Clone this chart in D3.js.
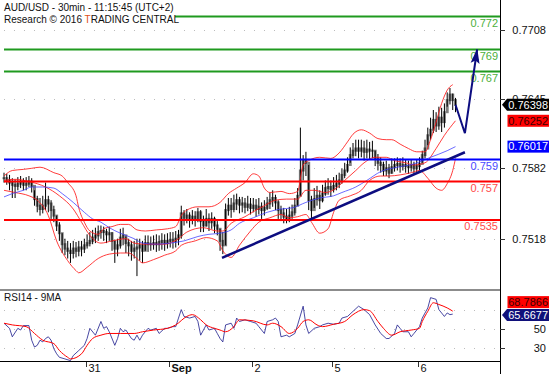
<!DOCTYPE html>
<html>
<head>
<meta charset="utf-8">
<script src="https://cdn.jsdelivr.net/npm/d3@7/dist/d3.min.js"></script>
<style>
  body { margin: 0; background: #fff; }
  svg { display: block; font-family: Arial, "Liberation Sans", sans-serif; }
</style>
</head>
<body>
<svg id="chart" width="554" height="374"></svg>
<script>
/*
AUD/USD 30min candles with bands, MA, levels and RSI panel
*/

// Price bars (30min), open = previous close
var closes = [
  0.7573,0.7571,0.7569,0.7567,0.7566,0.7568,0.7570,0.7567,0.7568,0.7570,
  0.7566,0.7554,0.7548,0.7545,0.7548,0.7553,0.7550,0.7544,0.7539,0.7530,
  0.7523,0.7513,0.7509,0.7507,0.7505,0.7509,0.7507,0.7510,0.7509,0.7512,
  0.7514,0.7516,0.7519,0.7521,0.7524,0.7525,0.7524,0.7522,0.7523,0.7516,
  0.7509,0.7512,0.7519,0.7521,0.7514,0.7512,0.7507,0.7509,0.7510,0.7512,
  0.7507,0.7514,0.7513,0.7513,0.7514,0.7513,0.7515,0.7516,0.7514,0.7516,
  0.7517,0.7516,0.7518,0.7521,0.7541,0.7537,0.7539,0.7535,0.7538,0.7536,
  0.7542,0.7534,0.7530,0.7536,0.7533,0.7536,0.7530,0.7527,0.7516,0.7512,
  0.7544,0.7548,0.7545,0.7550,0.7553,0.7549,0.7550,0.7547,0.7549,0.7546,
  0.7548,0.7545,0.7547,0.7544,0.7546,0.7550,0.7553,0.7555,0.7551,0.7544,
  0.7541,0.7538,0.7536,0.7539,0.7542,0.7548,0.7557,0.7580,0.7589,0.7587,
  0.7553,0.7544,0.7554,0.7557,0.7553,0.7559,0.7564,0.7565,0.7563,0.7566,
  0.7568,0.7571,0.7576,0.7580,0.7585,0.7594,0.7598,0.7600,0.7598,0.7600,
  0.7597,0.7599,0.7598,0.7598,0.7591,0.7587,0.7585,0.7580,0.7582,0.7578,
  0.7583,0.7585,0.7586,0.7584,0.7585,0.7584,0.7583,0.7585,0.7582,0.7584,
  0.7586,0.7594,0.7600,0.7612,0.7617,0.7626,0.7621,0.7628,0.7624,0.7633,
  0.7644,0.7649,0.7644,0.76398
];
var highs = [
  0.7578,0.7577,0.7576,0.7573,0.7572,0.7574,0.7575,0.7573,0.7574,0.7575,
  0.7573,0.7562,0.7557,0.7555,0.7557,0.7569,0.7557,0.7553,0.7548,0.7539,
  0.7533,0.7523,0.7518,0.7516,0.7514,0.7516,0.7515,0.7516,0.7516,0.7518,
  0.7522,0.7524,0.7526,0.7528,0.7530,0.7530,0.7529,0.7527,0.7529,0.7524,
  0.7516,0.7518,0.7527,0.7528,0.7520,0.7518,0.7516,0.7516,0.7518,0.7518,
  0.7516,0.7521,0.7521,0.7520,0.7521,0.7522,0.7521,0.7523,0.7522,0.7523,
  0.7524,0.7524,0.7525,0.7526,0.7548,0.7544,0.7545,0.7542,0.7544,0.7543,
  0.7546,0.7544,0.7539,0.7545,0.7541,0.7542,0.7538,0.7534,0.7527,0.7524,
  0.7550,0.7555,0.7555,0.7558,0.7559,0.7556,0.7556,0.7555,0.7557,0.7555,
  0.7555,0.7554,0.7555,0.7551,0.7553,0.7556,0.7560,0.7562,0.7558,0.7553,
  0.7548,0.7546,0.7545,0.7547,0.7549,0.7555,0.7564,0.7619,0.7594,0.7597,
  0.7585,0.7557,0.7564,0.7566,0.7562,0.7567,0.7571,0.7573,0.7571,0.7574,
  0.7576,0.7578,0.7582,0.7587,0.7592,0.7601,0.7605,0.7608,0.7608,0.7608,
  0.7607,0.7608,0.7606,0.7607,0.7598,0.7595,0.7592,0.7588,0.7589,0.7586,
  0.7591,0.7591,0.7592,0.7591,0.7592,0.7590,0.7589,0.7590,0.7588,0.7590,
  0.7592,0.7598,0.7608,0.7619,0.7628,0.7635,0.7633,0.7638,0.7637,0.7641,
  0.7651,0.7655,0.7650,0.7646
];
var lows = [
  0.7569,0.7567,0.7562,0.7555,0.7555,0.7562,0.7564,0.7562,0.7562,0.7565,
  0.7560,0.7548,0.7542,0.7539,0.7541,0.7544,0.7542,0.7536,0.7533,0.7525,
  0.7516,0.7505,0.7503,0.7500,0.7496,0.7500,0.7501,0.7502,0.7502,0.7505,
  0.7509,0.7511,0.7513,0.7514,0.7516,0.7518,0.7516,0.7514,0.7516,0.7507,
  0.7496,0.7502,0.7509,0.7512,0.7505,0.7502,0.7498,0.7500,0.7484,0.7498,
  0.7496,0.7507,0.7506,0.7507,0.7508,0.7506,0.7507,0.7508,0.7507,0.7509,
  0.7510,0.7509,0.7510,0.7512,0.7518,0.7530,0.7532,0.7528,0.7531,0.7529,
  0.7533,0.7524,0.7524,0.7529,0.7525,0.7527,0.7523,0.7521,0.7507,0.7504,
  0.7512,0.7539,0.7537,0.7542,0.7544,0.7541,0.7542,0.7541,0.7543,0.7540,
  0.7542,0.7538,0.7540,0.7536,0.7539,0.7544,0.7545,0.7547,0.7544,0.7536,
  0.7534,0.7532,0.7532,0.7533,0.7536,0.7539,0.7548,0.7557,0.7571,0.7575,
  0.7544,0.7536,0.7546,0.7548,0.7545,0.7551,0.7557,0.7558,0.7556,0.7560,
  0.7562,0.7564,0.7568,0.7573,0.7578,0.7587,0.7591,0.7593,0.7591,0.7592,
  0.7589,0.7591,0.7590,0.7591,0.7584,0.7580,0.7578,0.7575,0.7575,0.7573,
  0.7577,0.7579,0.7580,0.7578,0.7580,0.7578,0.7577,0.7579,0.7577,0.7578,
  0.7580,0.7587,0.7591,0.7603,0.7608,0.7614,0.7615,0.7617,0.7615,0.7619,
  0.7638,0.7640,0.7635,0.7633
];

// Bands and moving average, [bar index, price]
var bandUpper = [[0,0.7575],[3,0.7580],[7,0.7581],[10,0.7582],[13,0.7583],[18,0.7578],[21,0.7575],[23,0.7569],[26,0.7557],[27,0.7546],[29,0.7533],[31,0.7525],[34,0.7522],[36,0.7527],[39,0.7529],[42,0.7531],[45,0.7531],[48,0.7526],[51,0.7525],[55,0.7526],[59,0.7527],[62,0.7529],[64,0.7539],[66,0.7544],[70,0.7547],[74,0.7547],[78,0.7551],[81,0.7559],[84,0.7564],[87,0.7569],[90,0.7577],[92,0.7575],[94,0.7564],[96,0.7560],[100,0.7561],[103,0.7559],[106,0.7561],[108,0.7585],[110,0.7589],[114,0.7592],[118,0.7591],[121,0.7596],[124,0.7606],[126,0.7613],[129,0.7617],[132,0.7614],[135,0.7609],[138,0.7608],[140,0.7608],[143,0.7604],[146,0.7600],[149,0.7597],[152,0.7597],[154,0.7608],[156,0.7624],[158,0.7641],[160,0.7653],[162,0.7658]];
var bandMiddle = [[0,0.7571],[4,0.7572],[9,0.7570],[15,0.7565],[20,0.7557],[25,0.7545],[28,0.7533],[31,0.7521],[35,0.7514],[39,0.7516],[44,0.7518],[47,0.7514],[51,0.7513],[55,0.7513],[58,0.7513],[63,0.7518],[66,0.7524],[72,0.7528],[77,0.7525],[79,0.7525],[82,0.7532],[87,0.7538],[91,0.7544],[94,0.7548],[98,0.7553],[102,0.7554],[106,0.7554],[109,0.7562],[112,0.7562],[116,0.7560],[120,0.7564],[123,0.7571],[127,0.7580],[130,0.7587],[134,0.7592],[138,0.7592],[141,0.7589],[145,0.7587],[148,0.7585],[152,0.7587],[156,0.7600],[159,0.7612],[163,0.76252]];
var bandLower = [[0,0.7562],[4,0.7560],[9,0.7557],[12,0.7553],[16,0.7539],[19,0.7516],[23,0.7498],[26,0.7489],[27,0.7487],[30,0.7492],[34,0.7500],[38,0.7504],[42,0.7505],[45,0.7505],[48,0.7500],[50,0.7496],[54,0.7499],[58,0.7503],[62,0.7507],[64,0.7512],[69,0.7516],[73,0.7519],[77,0.7516],[79,0.7507],[82,0.7501],[85,0.7512],[89,0.7525],[92,0.7533],[96,0.7537],[100,0.7540],[103,0.7537],[106,0.7538],[109,0.7540],[111,0.7533],[114,0.7523],[117,0.7527],[119,0.7542],[121,0.7553],[125,0.7557],[129,0.7562],[132,0.7571],[136,0.7575],[139,0.7575],[143,0.7576],[147,0.7578],[150,0.7580],[153,0.7573],[156,0.7564],[158,0.7562],[160,0.7568],[162,0.7580],[163,0.7591]];
var movingAvg = [[0,0.7556],[3,0.7559],[7,0.7562],[10,0.7565],[14,0.7565],[18,0.7564],[21,0.7559],[25,0.7551],[29,0.7542],[32,0.7536],[35,0.7533],[38,0.7528],[42,0.7523],[47,0.7518],[50,0.7514],[55,0.7513],[60,0.7514],[65,0.7516],[70,0.7520],[74,0.7522],[78,0.7523],[82,0.7526],[85,0.7532],[90,0.7537],[95,0.7542],[100,0.7545],[104,0.7546],[109,0.7551],[114,0.7555],[119,0.7557],[122,0.7560],[127,0.7565],[131,0.7571],[136,0.7579],[142,0.7583],[148,0.7586],[154,0.7592],[160,0.7598],[163,0.76017]];

// RSI14 and its 9MA, [bar index, value]
var rsi = [[0,56.1],[2,50.7],[3,41.8],[5,50.7],[6,48.9],[7,53.6],[9,53.6],[10,38.2],[11,31.0],[12,32.8],[13,38.2],[14,36.4],[15,40.0],[16,41.8],[17,38.2],[18,29.2],[19,23.9],[20,20.2],[22,18.5],[24,16.7],[25,22.0],[27,27.4],[29,32.8],[30,40.0],[31,50.7],[33,43.5],[35,57.9],[36,50.7],[37,52.5],[38,47.1],[40,32.8],[41,40.0],[42,50.7],[43,47.1],[44,48.9],[46,40.0],[47,38.2],[48,43.5],[49,38.2],[50,43.5],[52,50.7],[53,48.9],[55,50.7],[56,45.3],[58,50.7],[59,50.7],[61,52.5],[62,52.5],[63,61.5],[64,70.4],[65,63.2],[67,61.5],[69,63.2],[70,57.9],[71,43.5],[73,54.3],[74,48.9],[76,50.7],[77,45.3],[78,40.0],[79,36.4],[80,54.3],[82,56.1],[83,50.7],[84,61.5],[85,57.9],[87,59.7],[89,57.9],[91,56.1],[92,52.5],[94,45.3],[95,57.9],[97,59.7],[98,61.5],[99,57.9],[100,41.8],[102,43.5],[103,41.8],[105,45.3],[106,54.3],[108,74.0],[109,54.3],[110,45.3],[112,50.7],[114,52.5],[115,54.3],[117,56.1],[119,55.0],[121,56.1],[122,61.5],[124,63.2],[126,68.6],[128,74.0],[130,70.4],[132,65.1],[134,54.3],[136,45.3],[138,40.0],[139,40.0],[141,45.3],[142,54.3],[143,50.7],[144,47.1],[146,47.1],[147,41.8],[148,45.3],[150,52.5],[151,61.5],[153,72.2],[154,83.0],[156,81.2],[157,70.4],[159,63.2],[160,66.9],[161,65.1],[162,65.6677]];
var rsiMa = [[0,56.1],[3,54.3],[8,52.5],[11,45.3],[14,38.2],[18,34.6],[20,27.4],[23,20.2],[24,18.5],[28,23.9],[30,32.8],[32,40.0],[35,43.5],[38,45.3],[42,45.3],[47,45.3],[50,47.1],[54,48.9],[59,50.7],[62,54.3],[66,63.2],[68,65.1],[71,59.7],[73,54.3],[76,50.7],[78,48.9],[80,47.1],[83,52.5],[85,59.7],[90,58.6],[95,54.3],[97,56.1],[100,52.5],[103,45.3],[106,50.7],[108,57.9],[110,59.7],[113,54.3],[115,52.5],[119,55.0],[123,57.9],[126,65.1],[130,70.4],[132,69.3],[135,57.9],[137,50.7],[140,43.5],[143,47.1],[147,48.9],[150,50.7],[151,57.9],[153,68.6],[155,77.6],[157,75.8],[160,72.2],[162,68.7866]];

// Levels
var resistLevels = [0.772, 0.769, 0.767];
var pivotLevels = [0.759];
var supportLevels = [0.757, 0.7535];

// Trend line and projected path, [bar index, price]
var trendLine = [[78.7, 0.75006], [166.4, 0.75966]];
var projection = [[163, 0.76398], [166.4, 0.76139], [170.8, 0.76900]];

// Axes
var priceTicks = [0.7518, 0.7582, 0.7645, 0.7708];
var rsiTicks = [30, 50, 70];
var rsiLabelTicks = [30, 50];
var dayStarts = [30, 60, 90, 119, 150];
var dayLabels = ["31", "Sep", "2", "5", "6"];

var title = "AUD/USD - 30min - 11:15:45 (UTC+2)";

// Layout
var W = 500;
var svg = d3.select("#chart");

var x = d3.scaleLinear().domain([0, 163]).range([4, 455.5]);
var y = d3.scaleLinear().domain([0.759, 0.7708]).range([159.5, 29.7]);
var yR = d3.scaleLinear().domain([30, 50]).range([348, 329]);

function openOf(i) {
  return i > 0 ? closes[i - 1] : closes[0];
}

var lineP = d3.line()
  .x(function(d) { return x(d[0]); })
  .y(function(d) { return y(d[1]); });

var lineR = d3.line()
  .x(function(d) { return x(d[0]); })
  .y(function(d) { return yR(d[1]); });

// Layers
var grid = svg.append("g").attr("class", "grid");
var chart = svg.append("g").attr("class", "chart");
var over = svg.append("g").attr("class", "overlay");
var axes = svg.append("g").attr("class", "axes");

// Dotted grid lines
grid.selectAll("line.pg")
  .data(priceTicks)
  .join("line")
    .attr("class", "pg")
    .attr("x1", 4).attr("x2", W)
    .attr("y1", function(d) { return Math.round(y(d)) + 0.5; })
    .attr("y2", function(d) { return Math.round(y(d)) + 0.5; })
    .style("stroke", "#bdbdbd")
    .style("stroke-dasharray", "1,9")
    ;
grid.selectAll("line.rg")
  .data(rsiTicks)
  .join("line")
    .attr("class", "rg")
    .attr("x1", 4).attr("x2", W)
    .attr("y1", function(d) { return Math.round(yR(d)) + 0.5; })
    .attr("y2", function(d) { return Math.round(yR(d)) + 0.5; })
    .style("stroke", "#bdbdbd")
    .style("stroke-dasharray", "1,9")
    ;

// Candles: gray body, black wick
var idx = d3.range(closes.length);
chart.selectAll("rect.body")
  .data(idx)
  .join("rect")
    .attr("class", "body")
    .attr("x", function(i) { return x(i) - 1.5; })
    .attr("width", 3)
    .attr("y", function(i) { return y(Math.max(openOf(i), closes[i])) - 1; })
    .attr("height", function(i) { return Math.max(2, Math.abs(y(openOf(i)) - y(closes[i])) + 2); })
    .style("fill", "#7f7f7f")
    ;
chart.selectAll("line.wick")
  .data(idx)
  .join("line")
    .attr("class", "wick")
    .attr("x1", function(i) { return x(i); })
    .attr("x2", function(i) { return x(i); })
    .attr("y1", function(i) { return y(highs[i]); })
    .attr("y2", function(i) { return y(lows[i]); })
    .style("stroke", "#000")
    .style("stroke-width", 1)
    ;

// Bands and MA
[bandUpper, bandMiddle, bandLower].forEach(function(b) {
  chart.append("path")
    .attr("d", lineP.curve(d3.curveMonotoneX)(b))
    .style("fill", "none")
    .style("stroke", "#ff1a1a")
    .style("stroke-opacity", 0.85)
    .style("stroke-width", 1)
    ;
});
chart.append("path")
  .attr("d", lineP.curve(d3.curveMonotoneX)(movingAvg))
  .style("fill", "none")
  .style("stroke", "#3a3aff")
  .style("stroke-opacity", 0.75)
  .style("stroke-width", 1)
  ;

// Level lines
function drawLevels(levels, lineColor, textColor) {
  levels.forEach(function(v) {
    over.append("line")
      .attr("x1", 4).attr("x2", W)
      .attr("y1", y(v)).attr("y2", y(v))
      .style("stroke", lineColor)
      .style("stroke-width", 2)
      ;
    over.append("text")
      .attr("x", W - 2)
      .attr("y", y(v) + 10)
      .style("text-anchor", "end")
      .style("font-size", "11px")
      .style("fill", textColor)
      .text(v)
      ;
  });
}
drawLevels(resistLevels, "#1f9a1f", "#4caf3a");
drawLevels(pivotLevels, "#0000ff", "#4a4aff");
drawLevels(supportLevels, "#ff0000", "#ff4a4a");

// Trend line
over.append("path")
  .attr("d", lineP.curve(d3.curveLinear)(trendLine))
  .style("fill", "none")
  .style("stroke", "#0d0d80")
  .style("stroke-width", 2.5)
  ;

// Projection arrow
svg.append("defs").append("marker")
  .attr("id", "head")
  .attr("markerUnits", "userSpaceOnUse")
  .attr("viewBox", "0 -5 15 10")
  .attr("refX", 14)
  .attr("refY", 0)
  .attr("markerWidth", 15)
  .attr("markerHeight", 10)
  .attr("orient", "auto")
  .append("path")
    .attr("d", "M0,-4.5L15,0L0,4.5L3,0Z")
    .style("fill", "#0d0d80")
    ;
over.append("path")
  .attr("d", lineP.curve(d3.curveLinear)(projection))
  .attr("marker-end", "url(#head)")
  .style("fill", "none")
  .style("stroke", "#0d0d80")
  .style("stroke-width", 2)
  ;

// RSI panel
chart.append("path")
  .attr("d", lineR.curve(d3.curveLinear)(rsi))
  .style("fill", "none")
  .style("stroke", "#1c1c8c")
  .style("stroke-opacity", 0.8)
  .style("stroke-width", 1)
  ;
chart.append("path")
  .attr("d", lineR.curve(d3.curveMonotoneX)(rsiMa))
  .style("fill", "none")
  .style("stroke", "#ff0000")
  .style("stroke-width", 1)
  ;

// Panel separators and axes lines
axes.append("line")
  .attr("x1", 0).attr("x2", W)
  .attr("y1", 290).attr("y2", 290)
  .style("stroke", "#8c8c8c")
  .style("stroke-width", 2)
  ;
axes.append("line")
  .attr("x1", 0).attr("x2", W)
  .attr("y1", 361.5).attr("y2", 361.5)
  .style("stroke", "#000")
  ;
axes.append("line")
  .attr("x1", W + 0.5).attr("x2", W + 0.5)
  .attr("y1", 0).attr("y2", 374)
  .style("stroke", "#000")
  ;

// Right price axis
priceTicks.forEach(function(t) {
  axes.append("line")
    .attr("x1", W).attr("x2", W + 5)
    .attr("y1", Math.round(y(t)) + 0.5).attr("y2", Math.round(y(t)) + 0.5)
    .style("stroke", "#333")
    ;
  axes.append("text")
    .attr("x", 546)
    .attr("y", y(t))
    .attr("dy", "0.35em")
    .style("text-anchor", "end")
    .style("font-size", "11px")
    .style("fill", "#111")
    .text(t)
    ;
});
rsiLabelTicks.forEach(function(t) {
  axes.append("line")
    .attr("x1", W).attr("x2", W + 5)
    .attr("y1", Math.round(yR(t)) + 0.5).attr("y2", Math.round(yR(t)) + 0.5)
    .style("stroke", "#333")
    ;
  axes.append("text")
    .attr("x", 546)
    .attr("y", yR(t))
    .attr("dy", "0.35em")
    .style("text-anchor", "end")
    .style("font-size", "11px")
    .style("fill", "#111")
    .text(t)
    ;
});

// Bottom time axis
dayStarts.forEach(function(d, j) {
  var tx = Math.round(x(d - 0.5)) + 0.5;
  axes.append("line")
    .attr("x1", tx).attr("x2", tx)
    .attr("y1", 362).attr("y2", 367)
    .style("stroke", "#333")
    ;
  axes.append("text")
    .attr("x", tx + 2)
    .attr("y", 372)
    .style("font-size", "11px")
    .style("font-weight", dayLabels[j] == "Sep" ? "bold" : "normal")
    .style("fill", "#111")
    .text(dayLabels[j])
    ;
});

// Value tags on the right
function tag(cy, value, fill, color, pointer) {
  var g = axes.append("g");
  if (pointer) {
    g.append("polygon")
      .attr("points", [[502, cy], [507, cy - 6], [549, cy - 6], [549, cy + 6], [507, cy + 6]].join(" "))
      .style("fill", fill)
      ;
  } else {
    g.append("rect")
      .attr("x", 507.5).attr("y", cy - 6)
      .attr("width", 41.5).attr("height", 12)
      .style("fill", fill)
      ;
  }
  g.append("text")
    .attr("x", 548)
    .attr("y", cy)
    .attr("dy", "0.35em")
    .style("text-anchor", "end")
    .style("font-size", "11px")
    .style("fill", color)
    .text(value)
    ;
}
var lastClose = closes[closes.length - 1];
var lastMid = bandMiddle[bandMiddle.length - 1][1];
var lastMa = movingAvg[movingAvg.length - 1][1];
var lastRsi = rsi[rsi.length - 1][1];
var lastRsiMa = rsiMa[rsiMa.length - 1][1];

tag(y(lastClose), lastClose.toFixed(5), "#000", "#fff", true);
tag(y(lastMid), lastMid.toFixed(5), "#ff0000", "#3a0000", false);
tag(y(lastMa), lastMa.toFixed(5), "#0000ff", "#fff", false);
var ryBlue = yR(lastRsi) + 1;
var ryRed = Math.min(yR(lastRsiMa), ryBlue - 13);
tag(ryRed, lastRsiMa.toFixed(4), "#ff0000", "#3a0000", false);
tag(ryBlue, lastRsi.toFixed(4), "#10107a", "#fff", true);

// Header with white background
axes.append("rect")
  .attr("x", 0).attr("y", 0)
  .attr("width", 175).attr("height", 27)
  .style("fill", "#fff")
  ;
axes.append("text")
  .attr("x", 4).attr("y", 11)
  .style("font-size", "10px")
  .style("fill", "#111")
  .text(title)
  ;
var sub = axes.append("text")
  .attr("x", 4).attr("y", 23)
  .style("font-size", "10px")
  .style("fill", "#111")
  ;
sub.append("tspan").text("Research \u00a9 2016 ");
sub.append("tspan").style("fill", "#e0501a").text("T");
sub.append("tspan").text("RADING CENTRAL");

// RSI label
axes.append("text")
  .attr("x", 4).attr("y", 301)
  .style("font-size", "10px")
  .style("fill", "#111")
  .text("RSI14 - 9MA")
  ;
</script>
</body>
</html>
